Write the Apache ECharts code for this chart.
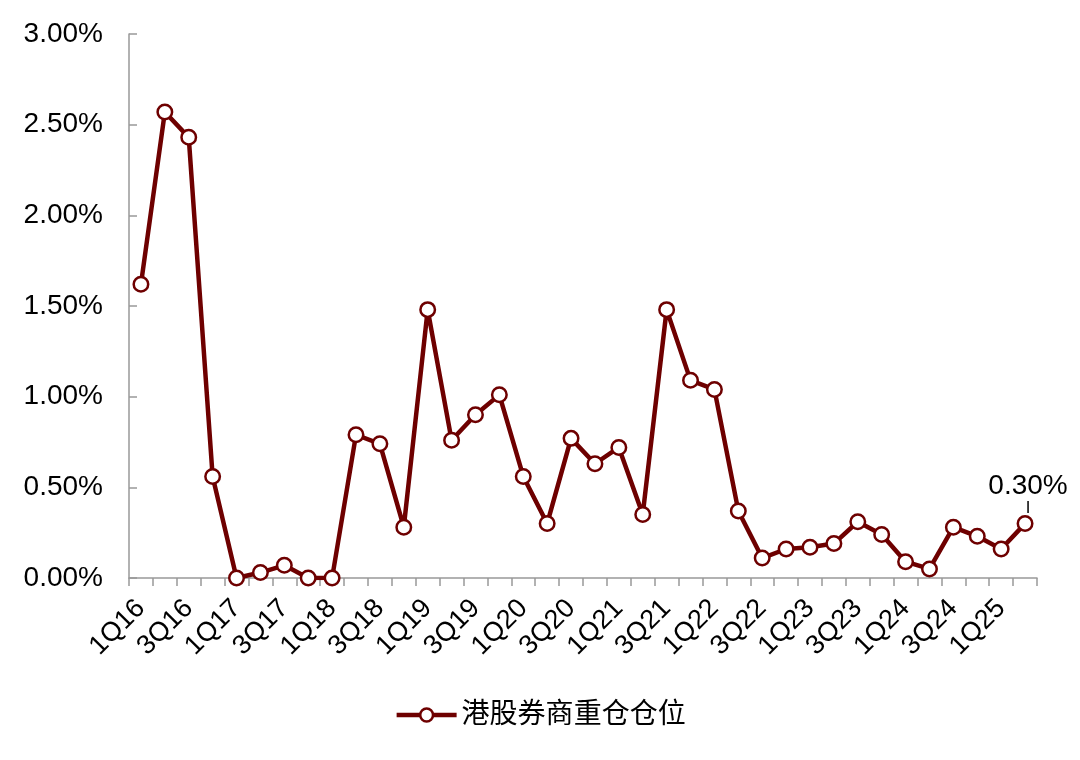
<!DOCTYPE html>
<html>
<head>
<meta charset="utf-8">
<script src="https://cdn.jsdelivr.net/npm/echarts@6/dist/echarts.min.js"></script>
<style>
  html, body { margin: 0; padding: 0; background: #fff; }
  #chart { width: 1080px; height: 760px; }
</style>
</head>
<body>
<div id="chart"></div>
<script>
const quarters = [
  '1Q16', '2Q16', '3Q16', '4Q16', '1Q17', '2Q17', '3Q17', '4Q17',
  '1Q18', '2Q18', '3Q18', '4Q18', '1Q19', '2Q19', '3Q19', '4Q19',
  '1Q20', '2Q20', '3Q20', '4Q20', '1Q21', '2Q21', '3Q21', '4Q21',
  '1Q22', '2Q22', '3Q22', '4Q22', '1Q23', '2Q23', '3Q23', '4Q23',
  '1Q24', '2Q24', '3Q24', '4Q24', '1Q25', '2Q25'
]
// 港股券商重仓仓位 (%)
const positions = [
  1.62, 2.57, 2.43, 0.56, 0.00, 0.03, 0.07, 0.00,
  0.00, 0.79, 0.74, 0.28, 1.48, 0.76, 0.90, 1.01,
  0.56, 0.30, 0.77, 0.63, 0.72, 0.35, 1.48, 1.09,
  1.04, 0.37, 0.11, 0.16, 0.17, 0.19, 0.31, 0.24,
  0.09, 0.05, 0.28, 0.23, 0.16, 0.30
]
const seriesName = '港股券商重仓仓位'
const yTicks = [0, 0.5, 1, 1.5, 2, 2.5, 3]

const lineColor = '#6e0000'
const font = 'Arial, "Liberation Sans", "Noto Sans CJK SC", sans-serif'

// only the last point carries a value label with a short leader line
const seriesData = positions.map((v, i) => {
  if (i !== positions.length - 1) return v
  return {
    value: v,
    label: {
      show: true,
      position: 'top',
      distance: 2,
      offset: [3, 0],
      formatter: p => '{t|' + p.value.toFixed(2) + '%}\n{l|}',
      rich: {
        t: { fontSize: 28, color: '#000', fontFamily: font, lineHeight: 30 },
        l: { width: 1.5, height: 12, backgroundColor: '#000', align: 'center' }
      }
    }
  }
})

const chart = echarts.init(document.getElementById('chart'))
chart.setOption({
  animation: false,
  textStyle: { fontFamily: font },
  grid: { left: 129, right: 43, top: 34, bottom: 182 },
  legend: {
    bottom: 26,
    left: 'center',
    itemWidth: 60,
    itemHeight: 16,
    itemGap: 10,
    lineStyle: { width: 4.5 },
    itemStyle: { borderWidth: 2.5 },
    textStyle: { fontSize: 28, color: '#000', fontFamily: font },
    data: [seriesName]
  },
  xAxis: {
    type: 'category',
    data: quarters,
    boundaryGap: true,
    axisLine: { lineStyle: { color: '#999', width: 1.5 } },
    axisTick: { show: true, interval: 0, length: 8, lineStyle: { color: '#999', width: 1.5 } },
    axisLabel: {
      interval: 1,
      rotate: 45,
      fontSize: 27,
      color: '#000',
      margin: 26,
      fontFamily: font
    }
  },
  yAxis: {
    type: 'value',
    min: yTicks[0],
    max: yTicks[yTicks.length - 1],
    interval: 0.5,
    splitLine: { show: false },
    axisLine: { show: true, lineStyle: { color: '#999', width: 1.5 } },
    axisTick: { show: true, inside: true, length: 8, lineStyle: { color: '#999', width: 1.5 } },
    axisLabel: {
      fontSize: 28,
      color: '#000',
      margin: 26,
      fontFamily: font,
      formatter: v => v.toFixed(2) + '%'
    }
  },
  series: [{
    name: seriesName,
    type: 'line',
    data: seriesData,
    symbol: 'circle',
    symbolSize: 14.5,
    lineStyle: { color: lineColor, width: 4.5 },
    itemStyle: { color: '#fff', borderColor: lineColor, borderWidth: 2.5 }
  }]
})
</script>
</body>
</html>
